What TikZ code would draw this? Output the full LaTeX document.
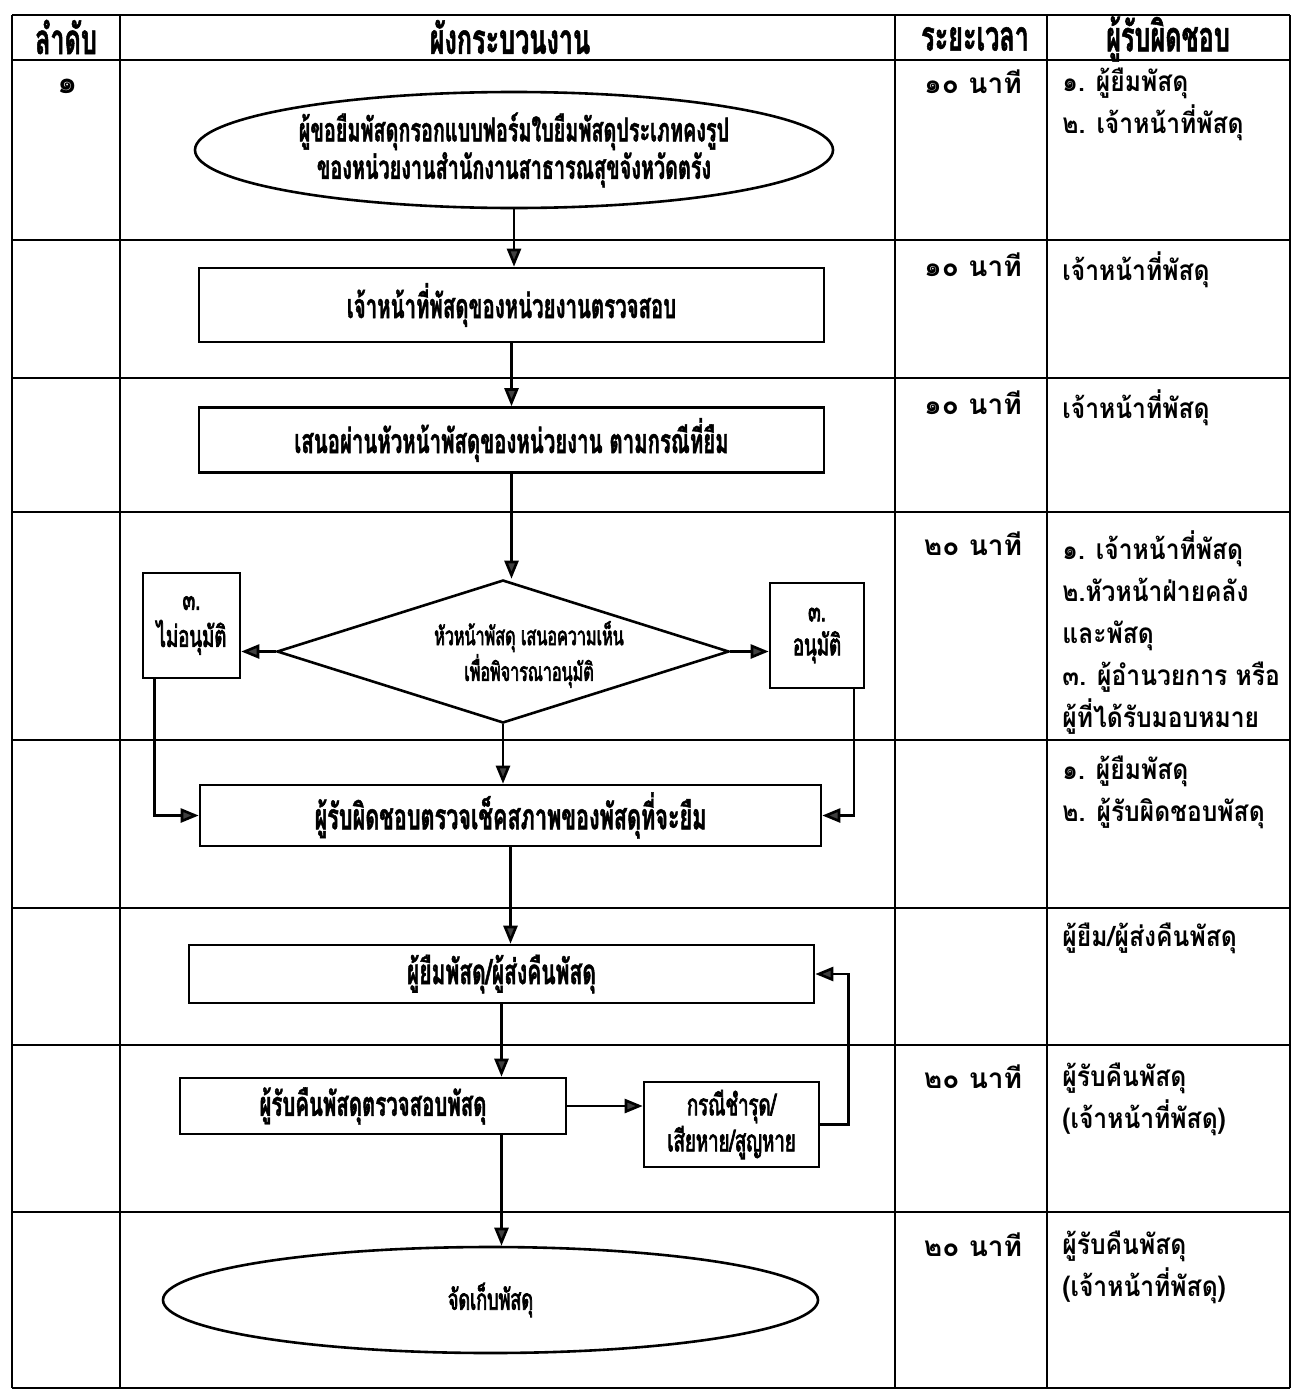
\documentclass[tikz,border=0pt]{standalone}
\usepackage{fontspec}
\newfontfamily\thai[Script=Thai]{Loma}
\newfontfamily\thair[Script=Thai,FakeStretch=0.88]{Loma}
\newfontfamily\thaic[Script=Thai,FakeStretch=0.6,BoldFeatures={FakeBold=1.2}]{Loma}
\newfontfamily\thaics[Script=Thai,FakeStretch=0.62,FakeBold=2.5]{Loma}
\usetikzlibrary{shapes.geometric,arrows.meta}
\tikzset{
  tline/.style={line width=1.4pt},
  flow/.style={draw, line width=1.3pt, inner sep=0pt, align=center,
    font=\thaic\bfseries\fontsize{17}{16}\selectfont},
  boxn/.style={flow, rectangle},
  ell/.style={flow, ellipse},
  dia/.style={flow, diamond, aspect=3.16},
  arr/.style={line width=1.3pt, -{Triangle[length=9pt,width=7pt,fill=black!75]}},
  hd/.style={inner sep=0pt, font=\thaic\bfseries\fontsize{21}{21}\selectfont},
  tcell/.style={inner sep=0pt, anchor=base, font=\thai\bfseries\fontsize{14}{21}\selectfont},
  rcell/.style={inner sep=0pt, anchor=north west, align=left, font=\thair\bfseries\fontsize{14}{21}\selectfont},
}
\begin{document}
\begin{tikzpicture}[x=0.5pt,y=-0.5pt]
\useasboundingbox (0,0) rectangle (1301,1397);
% table grid
\foreach \yy in {15,60,240,378,512,740,908,1045,1212,1388}
  \draw[tline] (12,\yy) -- (1290,\yy);
\foreach \xx in {12,120,895,1047,1290}
  \draw[tline] (\xx,15) -- (\xx,1388);
% headers
\node[hd] (h1) at (66,37) {ลำดับ};
\node[hd] (h2) at (510,37) {ผังกระบวนงาน};
\node[hd] (h3) at (975,39) {ระยะเวลา};
\node[hd] (h4) at (1168,39) {ผู้รับผิดชอบ};
\node[tcell, font=\thai\bfseries\fontsize{16}{21}\selectfont] (c1) at (68,93) {๑};
% time column
\node[tcell] (t1) at (973,93) {๑๐ นาที};
\node[tcell] (t2) at (973,276) {๑๐ นาที};
\node[tcell] (t3) at (973,414) {๑๐ นาที};
\node[tcell] (t4) at (973,555) {๒๐ นาที};
\node[tcell] (t7) at (973,1088) {๒๐ นาที};
\node[tcell] (t8) at (973,1256) {๒๐ นาที};
% responsible column
\node[rcell] (r1) at (1062,68) {๑. ผู้ยืมพัสดุ\\๒. เจ้าหน้าที่พัสดุ};
\node[rcell] (r2) at (1062,251) {เจ้าหน้าที่พัสดุ};
\node[rcell] (r3) at (1062,389) {เจ้าหน้าที่พัสดุ};
\node[rcell] (r4) at (1062,530) {๑. เจ้าหน้าที่พัสดุ\\๒.หัวหน้าฝ่ายคลัง\\และพัสดุ\\๓. ผู้อำนวยการ หรือ\\ผู้ที่ได้รับมอบหมาย};
\node[rcell] (r5) at (1062,756) {๑. ผู้ยืมพัสดุ\\๒. ผู้รับผิดชอบพัสดุ};
\node[rcell] (r6) at (1062,923) {ผู้ยืม/ผู้ส่งคืนพัสดุ};
\node[rcell] (r7) at (1062,1063) {ผู้รับคืนพัสดุ\\(เจ้าหน้าที่พัสดุ)};
\node[rcell] (r8) at (1062,1231) {ผู้รับคืนพัสดุ\\(เจ้าหน้าที่พัสดุ)};
% flow nodes
\node[ell, minimum width=319pt, minimum height=58pt, font=\thaic\bfseries\fontsize{16.5}{16.5}\selectfont] (e1) at (514,150)
  {ผู้ขอยืมพัสดุกรอกแบบฟอร์มใบยืมพัสดุประเภทคงรูป\\ของหน่วยงานสำนักงานสาธารณสุขจังหวัดตรัง};
\node[boxn, minimum width=312.5pt, minimum height=37pt] (b2) at (511.5,305) {เจ้าหน้าที่พัสดุของหน่วยงานตรวจสอบ};
\node[boxn, minimum width=312.5pt, minimum height=32.5pt] (b3) at (511.5,440) {เสนอผ่านหัวหน้าพัสดุของหน่วยงาน ตามกรณีที่ยืม};
\node[dia, minimum width=226pt, minimum height=71.5pt, font=\thaics\fontsize{13}{15}\selectfont] (d4) at (503,651.5)
  {\smash{\makebox[0pt]{\hspace{26pt}\raisebox{-5pt}{\begin{tabular}{@{}c@{}}หัวหน้าพัสดุ เสนอความเห็น\\เพื่อพิจารณาอนุมัติ\end{tabular}}}}};
\node[boxn, minimum width=48.5pt, minimum height=52.5pt, font=\thaics\fontsize{15}{18.5}\selectfont] (nl) at (191.5,625.5) {๓.\\ไม่อนุมัติ};
\node[boxn, minimum width=47pt, minimum height=52.5pt, font=\thaics\fontsize{15}{17}\selectfont] (nr) at (817,635.5) {๓.\\อนุมัติ};
\node[boxn, minimum width=310.5pt, minimum height=30.5pt, font=\thaic\bfseries\fontsize{18}{16}\selectfont] (b5) at (510.5,815.5) {ผู้รับผิดชอบตรวจเช็คสภาพของพัสดุที่จะยืม};
\node[boxn, minimum width=312.5pt, minimum height=29pt, font=\thaic\bfseries\fontsize{17.5}{16}\selectfont] (b6) at (501.5,974) {ผู้ยืมพัสดุ/ผู้ส่งคืนพัสดุ};
\node[boxn, minimum width=193pt, minimum height=28pt] (b7) at (373,1106) {ผู้รับคืนพัสดุตรวจสอบพัสดุ};
\node[boxn, minimum width=87.5pt, minimum height=42.5pt, font=\thaics\fontsize{15}{18}\selectfont] (b8) at (731.5,1124.5) {กรณีชำรุด/\\เสียหาย/สูญหาย};
\node[ell, minimum width=327.5pt, minimum height=53pt, font=\thaics\fontsize{14.5}{16}\selectfont] (e9) at (490.5,1300) {จัดเก็บพัสดุ};
% connectors
\draw[arr] (e1.south) -- (e1.south |- b2.north);
\draw[arr] (b2.south) -- (b2.south |- b3.north);
\draw[arr] (b3.south) -- (b3.south |- d4.north);
\draw[arr] (d4.west) -- (d4.west -| nl.east);
\draw[arr] (d4.east) -- (d4.east -| nr.west);
\draw[arr] (d4.south) -- (d4.south |- b5.north);
\draw[arr] ([xshift=-18.5pt]nl.south) |- (b5.west);
\draw[arr] ([xshift=18.5pt]nr.south) |- (b5.east);
\draw[arr] (b5.south) -- (b5.south |- b6.north);
\draw[arr] (b6.south) -- (b6.south |- b7.north);
\draw[arr] (b7.east) -- (b7.east -| b8.west);
\draw[arr] (b8.east) -- ++(14pt,0) |- (b6.east);
\draw[arr] (b6.south |- b7.south) -- (b6.south |- e9.north);
\end{tikzpicture}
\end{document}
